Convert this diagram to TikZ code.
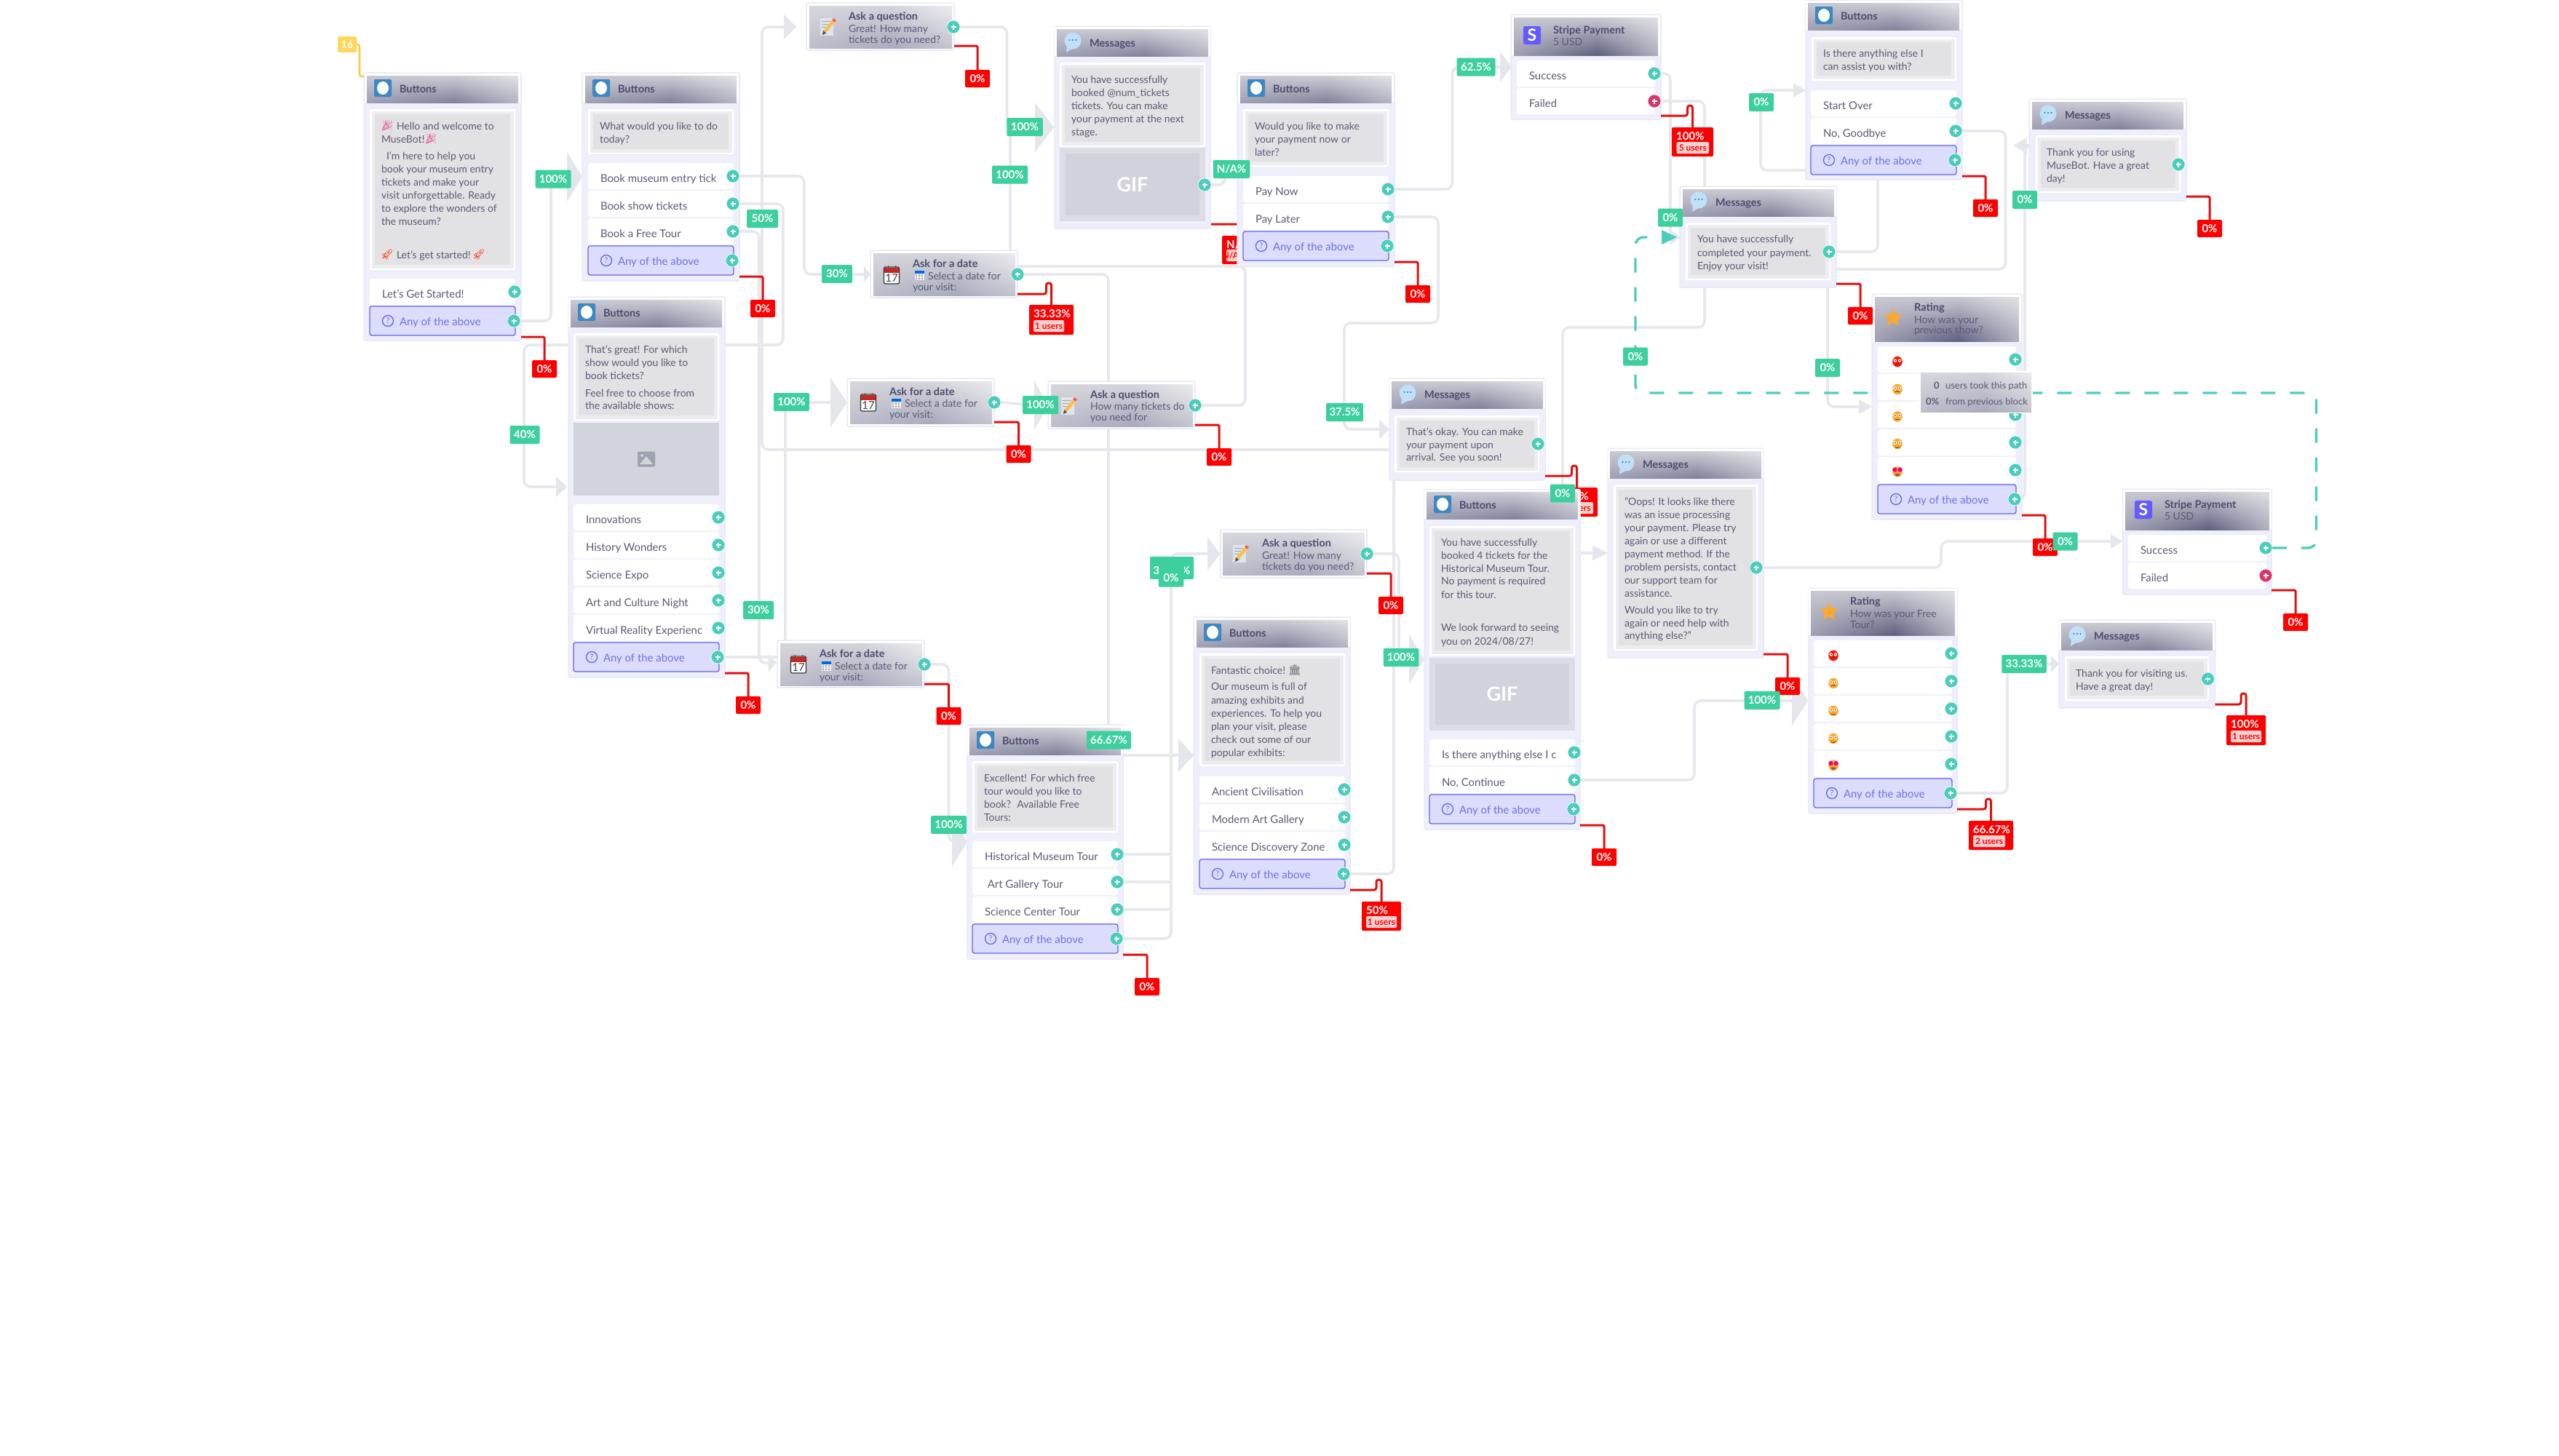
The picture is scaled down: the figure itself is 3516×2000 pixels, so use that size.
\documentclass[tikz,border=0pt]{standalone}
\usepackage{fontspec}
\setmainfont{Lato}
\newfontfamily\emofont{Noto Emoji}
\usetikzlibrary{calc,shapes.geometric,shadings}
\definecolor{bodyc}{HTML}{EEEFFA}
\definecolor{bodyl}{HTML}{E8E9F6}
\definecolor{txtc}{HTML}{5A5A76}
\definecolor{ttlc}{HTML}{4B4B6E}
\definecolor{connc}{HTML}{E7E8ED}
\definecolor{arrowc}{HTML}{E5E6EB}
\definecolor{tealc}{HTML}{4CCDBC}
\definecolor{pinkc}{HTML}{D9366B}
\definecolor{greenc}{HTML}{3ECF9F}
\definecolor{redc}{HTML}{FF0000}
\definecolor{redl}{HTML}{E01010}
\definecolor{anyf}{HTML}{DCDDFC}
\definecolor{anyl}{HTML}{6366E8}
\definecolor{anyt}{HTML}{6F70E6}
\definecolor{msgc}{HTML}{E2E2E4}
\definecolor{msge}{HTML}{EDEDEF}
\definecolor{gifc}{HTML}{D2D2DD}
\definecolor{gife}{HTML}{DCDCE5}
\definecolor{imgc}{HTML}{D1D5DB}
\definecolor{imgi}{HTML}{9CA3AF}
\definecolor{btnb}{HTML}{3D87C3}
\definecolor{msgb}{HTML}{BFE0F7}
\definecolor{msgd}{HTML}{2E79B5}
\definecolor{stripec}{HTML}{635BFF}
\definecolor{starc}{HTML}{FFA92B}
\definecolor{yelc}{HTML}{FFD75E}
\definecolor{yell}{HTML}{FFC93C}
\definecolor{pillc}{HTML}{FFD2D2}
\definecolor{memoc}{HTML}{DDE4EC}
% header colours: a = Buttons/Messages, b = Rating/Stripe, c = Ask blocks / tooltip
\definecolor{aul}{HTML}{C9C9D3}\definecolor{aum}{HTML}{CDCDD6}\definecolor{aur}{HTML}{E2E2E6}
\definecolor{all}{HTML}{A0A0B4}\definecolor{alm}{HTML}{80809A}\definecolor{alr}{HTML}{B5B5C3}
\definecolor{bul}{HTML}{C8C8D2}\definecolor{bum}{HTML}{C8C8D2}\definecolor{bur}{HTML}{E0E0E4}
\definecolor{bll}{HTML}{A0A0B2}\definecolor{blm}{HTML}{5F5F7F}\definecolor{blr}{HTML}{B0B0BE}
\definecolor{cul}{HTML}{D6D6DC}\definecolor{cum}{HTML}{D4D4DC}\definecolor{cur}{HTML}{EBEBEE}
\definecolor{cll}{HTML}{BDBECB}\definecolor{clm}{HTML}{A8A9BB}\definecolor{clr}{HTML}{C4C4D0}
\tikzset{
  txt/.style={anchor=base west,inner sep=0pt,outer sep=0pt,text=txtc,font=\fontsize{14}{14}\selectfont},
  opt/.style={font=\fontsize{14.9}{14.9}\selectfont},
  ttl/.style={text=ttlc,font=\fontsize{14.5}{14.5}\selectfont\bfseries},
  anytx/.style={text=anyt,font=\fontsize{14.9}{14.9}\selectfont},
  bodyn/.style={draw=bodyl,fill=bodyc,line width=1.5pt,rounded corners=2pt,anchor=north west,inner sep=0pt,outer sep=0pt},
  plusn/.style={circle,fill=tealc,draw=white,line width=0.6pt,minimum size=18pt,inner sep=0pt,outer sep=0pt},
  conn/.style={draw=connc,line width=3.6pt,rounded corners=9pt},
  redline/.style={draw=redl,line width=3pt,rounded corners=1.5pt},
  dashc/.style={draw=tealc,line width=3.4pt,rounded corners=11pt,dash pattern=on 20pt off 20pt},
  gl/.style={fill=greenc,text=white,rounded corners=2pt,minimum height=25pt,inner sep=0pt,outer sep=0pt,font=\fontsize{15}{15}\selectfont\bfseries},
  rl/.style={fill=redc,text=white,rounded corners=2pt,minimum height=24pt,minimum width=34pt,inner sep=0pt,outer sep=0pt,font=\fontsize{15}{15}\selectfont\bfseries},
}
\newcount\nodeno
\newcommand\Tx[4][]{\global\advance\nodeno by 1 \node[txt,#1] (t\the\nodeno) at ({#2},{#3+5}) {#4};}
\newcommand\Emo[4]{\global\advance\nodeno by 1 \node[anchor=center,inner sep=0pt,text=#3,font=\fontsize{14}{14}\emofont] (t\the\nodeno) at (#1,#2) {#4};}
\newcommand\Bd[5]{\node[bodyn,minimum width=#4-#2,minimum height=#5-#3] (#1) at (#2,#3) {};}
\newcommand\HdS[5]{%
  \pgfmathsetmacro\hm{#1+0.58*(#3-#1)}%
  \shade[shading=bilinear interpolation,upper left=#5ul,upper right=#5um,lower left=#5ll,lower right=#5lm] (#1,#2) rectangle (\hm+0.4,#4);
  \shade[shading=bilinear interpolation,upper left=#5um,upper right=#5ur,lower left=#5lm,lower right=#5lr] (\hm,#2) rectangle (#3,#4);}
\newcommand\Hd[5]{\fill[white] (#1-3,#2-3) rectangle (#3+3,#4); \HdS{#1}{#2}{#3}{#4}{#5}}
\newcommand\Msg[4]{%
  \fill[white,rounded corners=1.5pt] (#1,#2) rectangle (#3,#4);
  \fill[msge] (#1+2.5,#2+2.5) rectangle (#3-2.5,#4-2.5);
  \fill[msgc] (#1+7,#2+7) rectangle (#3-7,#4-7);}
\newcommand\Gif[4]{%
  \fill[gife] (#1,#2) rectangle (#3,#4);
  \fill[gifc] (#1+8,#2+8) rectangle (#3-8,#4-8);
  \global\advance\nodeno by 1
  \node[inner sep=0pt,text=white,font=\fontsize{27}{27}\selectfont\bfseries] (t\the\nodeno) at ({(#1+#3)/2},{(#2+#4)/2}) {GIF};}
\newcommand\Plus[4][tealc]{%
  \node[plusn,fill=#1] (#2) at (#3,#4) {};
  \draw[white,line width=1.4pt] ([xshift=-3.5pt]#2.center) -- ([xshift=3.5pt]#2.center) ([yshift=-3.5pt]#2.center) -- ([yshift=3.5pt]#2.center);}
\newcommand\Op[7][tealc]{% [col]{name}{x1}{y1}{x2}{y2}{text}
  \pgfmathsetmacro\opcy{(#4+#6)/2}%
  \fill[white,rounded corners=3pt] (#3,#4) rectangle (#5,#6);
  \Tx[opt]{#3+17}{\opcy+3}{#7}
  \Plus[#1]{#2}{#5-1}{\opcy}}
\newcommand\IQ[2]{%
  \draw[anyl,line width=1.3pt] (#1,#2) circle (7.5);
  \global\advance\nodeno by 1
  \node[inner sep=0pt,text=anyl,font=\fontsize{10.5}{10.5}\selectfont] (t\the\nodeno) at (#1,#2) {?};}
\newcommand\AnyOp[5]{%
  \pgfmathsetmacro\opcy{(#3+#5)/2}%
  \draw[fill=anyf,draw=anyl,line width=1.3pt,rounded corners=3pt] (#2,#3) rectangle (#4,#5);
  \IQ{#2+25}{\opcy}
  \Tx[anytx]{#2+41}{\opcy+1}{Any of the above}
  \Plus{#1}{#4-2}{\opcy}}
\newcommand\IBtn[2]{\fill[btnb,rounded corners=2pt] (#1,#2) rectangle (#1+24,#2+24); \fill[white] (#1+12,#2+12) ellipse (8 and 9);}
\newcommand\IMsg[2]{%
  \fill[msgb] (#1-8,#2+6) -- (#1-9,#2+16) -- (#1+1,#2+10) -- cycle;
  \fill[msgb] (#1,#2) circle (11.5);
  \fill[msgd] (#1-4.5,#2-1) circle (1.1) (#1,#2-1) circle (1.1) (#1+4.5,#2-1) circle (1.1);}
\newcommand\IMemo[2]{%
  \fill[memoc] (#1-11,#2-12) rectangle (#1+7,#2+12);
  \draw[gray!70,line width=1pt] (#1-9,#2-8) -- (#1+3,#2-8) (#1-9,#2-4) -- (#1,#2-4) (#1-9,#2) -- (#1-2,#2);
  \draw[yelc!70!orange,line width=4.5pt] (#1-5,#2+7) -- (#1+7,#2-8);
  \draw[red!70,line width=4.5pt] (#1+7,#2-8) -- (#1+9,#2-10.5);
  \fill[black!70] (#1-8,#2+11) -- (#1-7,#2+5) -- (#1-3,#2+8.5) -- cycle;}
\newcommand\ICal[2]{%
  \draw[fill=white,draw=black!80,line width=1.2pt,rounded corners=1.5pt] (#1-10.5,#2-11) rectangle (#1+10.5,#2+12);
  \fill[red!75!black!85!white] (#1-9.8,#2-10.3) rectangle (#1+9.8,#2-3.5);
  \draw[black!70,line width=.8pt] (#1-5,#2-13) -- (#1-5,#2-9) (#1+5,#2-13) -- (#1+5,#2-9);
  \global\advance\nodeno by 1
  \node[inner sep=0pt,text=black!75,font=\fontsize{15}{15}\selectfont] (t\the\nodeno) at (#1,#2+4.5) {17};}
\newcommand\IMini[2]{%
  \fill[gray!12] (#1-6.5,#2-6) rectangle (#1+6.5,#2+7);
  \fill[blue!55!cyan!90!black] (#1-6.5,#2-6) rectangle (#1+6.5,#2-2.5);
  \foreach \ii in {-4,0,4}{\foreach \jj in {0,2.5,5}{\fill[gray!70] (#1+\ii-.8,#2+\jj-.8) rectangle (#1+\ii+.8,#2+\jj+.8);}}}
\newcommand\IStripe[2]{%
  \fill[stripec,rounded corners=2.5pt] (#1,#2) rectangle (#1+24,#2+25);
  \global\advance\nodeno by 1
  \node[inner sep=0pt,text=white,font=\fontsize{23}{23}\selectfont\bfseries] (t\the\nodeno) at (#1+12,#2+12.5) {S};}
\newcommand\IStar[2]{%
  \global\advance\nodeno by 1
  \node[star,star points=5,star point ratio=2.3,fill=starc,inner sep=0pt,minimum size=27pt] (t\the\nodeno) at (#1,#2) {};}
\newcommand\IImg[2]{%
  \fill[imgi,rounded corners=2pt] (#1-12,#2-10.5) rectangle (#1+12,#2+10.5);
  \fill[imgc] (#1-9,#2+7) -- (#1,#2-4) -- (#1+9,#2+7) -- cycle;
  \fill[imgc] (#1-6,#2-5) circle (2);}
\newcommand\Face[4]{%
  \fill[#3] (#1,#2) ellipse (6.8 and 7.3);
  \fill[white] (#1-3,#2-1.5) circle (2.2) (#1+3,#2-1.5) circle (2.2);
  \fill[black!75] (#1-3,#2-1.5) circle (1) (#1+3,#2-1.5) circle (1);
  \draw[black!70,line width=.9pt] (#1-3,#2+4) .. controls (#1,#2+4+#4) .. (#1+3,#2+4);}
\newcommand\FaceH[2]{%
  \fill[starc] (#1,#2) ellipse (6.8 and 7.3);
  \fill[magenta!85!red] (#1-3.6,#2-3) circle (3.2) (#1+3.6,#2-3) circle (3.2);
  \fill[magenta!60!black] (#1-3.5,#2+2.5) -- (#1+3.5,#2+2.5) .. controls (#1+3,#2+7) and (#1-3,#2+7) .. cycle;}
\newcommand\Arw[6][arrowc]{%
  \fill[#1] ({#3-#5},{#4-#6}) -- (#3,#4) -- ({#3-#5},{#4+#6}) -- cycle;
  \coordinate (#2) at ({#3-#5},#4);}
\newcommand\GL[5]{\node[gl,minimum width=#4] (#1) at (#2,#3) {#5};}
\newcommand\RL[4]{\node[rl] (#1) at (#2,#3) {#4};}
\newcommand\RD[9]{% name x1 y1 x2 y2 pct users pillx1 pillx2
  \node[rl,anchor=north west,minimum width=#4-#2,minimum height=#5-#3] (#1) at (#2,#3) {};
  \fill[pillc,rounded corners=1.5pt] (#8,#5-20) rectangle (#9,#5-4);
  \global\advance\nodeno by 1
  \node[anchor=base west,inner sep=0pt,text=white,font=\fontsize{15}{15}\selectfont\bfseries] (t\the\nodeno) at (#2+6,#3+17) {#6};
  \global\advance\nodeno by 1
  \node[anchor=base,inner sep=0pt,text=red,font=\fontsize{12}{12}\selectfont\bfseries] (t\the\nodeno) at ({(#8+#9)/2},#5-7.5) {#7};}
\newcommand\Rdrop[3]{\draw[redline] ([yshift=#2pt]#1.south east) -| (#3.north);}
\newcommand\Rbump[3]{\draw[redline,rounded corners=3pt] ([yshift=#2pt]#1.south east) -| ($(#3.north)+(-7,-30)$) -- ($(#3.north)+(0,-30)$) -- (#3.north);}
\pgfdeclarelayer{connlayer}\pgfdeclarelayer{toplayer}
\pgfsetlayers{connlayer,main,toplayer}
\begin{document}
\begin{tikzpicture}[x=1pt,y=-1pt]
\useasboundingbox (0,0) rectangle (3516,2000);

% ---------- A ----------
\Bd{bA}{500}{100}{716}{468}
\Hd{504}{104}{712}{141}{a}
\IBtn{514}{109}
\Tx[ttl]{549}{122.5}{Buttons}
\Msg{508}{150}{708}{371}
\Emo{532}{173}{magenta!70!orange}{🎉}
\Tx{545}{173}{Hello and welcome to}
\Tx{524}{191}{MuseBot!}
\Emo{592}{191}{magenta!70!orange}{🎉}
\Tx{531}{214}{I'm here to help you}
\Tx{524}{232}{book your museum entry}
\Tx{524}{250}{tickets and make your}
\Tx{524}{268}{visit unforgettable. Ready}
\Tx{524}{286}{to explore the wonders of}
\Tx{524}{304}{the museum?}
\Emo{532}{350}{red!70!orange}{🚀}
\Tx{545}{350}{Let's get started!}
\Emo{658}{350}{red!70!orange}{🚀}
\Op{pA1}{508}{383}{708}{419}{Let's Get Started!}
\AnyOp{pAa}{508}{421}{708}{461}

% ---------- B ----------
\Bd{bB}{800}{100}{1016}{386}
\Hd{804}{104}{1012}{141}{a}
\IBtn{814}{109}
\Tx[ttl]{849}{122.5}{Buttons}
\Msg{808}{150}{1008}{212}
\Tx{824}{173}{What would you like to do}
\Tx{824}{191}{today?}
\Op{pB1}{808}{224}{1008}{260}{Book museum entry tick}
\Op{pB2}{808}{262}{1008}{298}{Book show tickets}
\Op{pB3}{808}{300}{1008}{336}{Book a Free Tour}
\AnyOp{pBa}{808}{338}{1008}{378}

% ---------- C ----------
\Bd{bC}{781}{408}{996}{931}
\Hd{784}{412}{992}{449}{a}
\IBtn{794}{417}
\Tx[ttl]{829}{430}{Buttons}
\Msg{788}{458}{988}{578}
\Tx{804}{480}{That's great! For which}
\Tx{804}{498.5}{show would you like to}
\Tx{804}{516}{book tickets?}
\Tx{804}{540}{Feel free to choose from}
\Tx{804}{557.5}{the available shows:}
\fill[imgc] (788,581) rectangle (988,681);
\IImg{888}{631}
\Op{pC1}{788}{693}{988}{729}{Innovations}
\Op{pC2}{788}{731}{988}{767}{History Wonders}
\Op{pC3}{788}{769}{988}{805}{Science Expo}
\Op{pC4}{788}{807}{988}{843}{Art and Culture Night}
\Op{pC5}{788}{845}{988}{881}{Virtual Reality Experienc}
\AnyOp{pCa}{788}{883}{988}{923}

% ---------- D Ask a question ----------
\Bd{bD}{1108}{4}{1311}{69}
\fill[white] (1109,5) rectangle (1310,68);
\HdS{1112}{8}{1308}{66}{c}
\IMemo{1138}{37}
\Tx[ttl]{1166}{22.5}{Ask a question}
\Tx{1166}{39}{Great! How many}
\Tx{1166}{54}{tickets do you need?}
\Plus{pD}{1310}{37}

% ---------- E Messages ----------
\Bd{bE}{1449}{36}{1663}{314}
\Hd{1452}{40}{1660}{77}{a}
\IMsg{1474}{56}
\Tx[ttl]{1497}{59}{Messages}
\Msg{1456}{86}{1656}{202}
\Tx{1472}{109}{You have successfully}
\Tx{1472}{127}{booked @num\_tickets}
\Tx{1472}{145}{tickets. You can make}
\Tx{1472}{163}{your payment at the next}
\Tx{1472}{181}{stage.}
\Gif{1456}{203}{1656}{304}
\Plus{pE}{1655}{254}

% ---------- F Ask for a date ----------
\Bd{bF}{1196}{344}{1398}{409}
\fill[white] (1197,345) rectangle (1397,408);
\HdS{1200}{348}{1395}{406}{c}
\ICal{1225}{378}
\Tx[ttl]{1254}{362}{Ask for a date}
\IMini{1263}{378}
\Tx{1275}{379}{Select a date for}
\Tx{1254}{394}{your visit:}
\Plus{pF}{1398}{377}

% ---------- G Buttons ----------
\Bd{bG}{1700}{100}{1916}{366}
\Hd{1704}{104}{1912}{141}{a}
\IBtn{1714}{109}
\Tx[ttl]{1749}{122.5}{Buttons}
\Msg{1708}{150}{1908}{229}
\Tx{1724}{173}{Would you like to make}
\Tx{1724}{191}{your payment now or}
\Tx{1724}{209}{later?}
\Op{pG1}{1708}{242}{1908}{278}{Pay Now}
\Op{pG2}{1708}{280}{1908}{316}{Pay Later}
\AnyOp{pGa}{1708}{318}{1908}{358}

% ---------- H Stripe ----------
\Bd{bH}{2076}{20}{2282}{164}
\Hd{2080}{24}{2278}{76}{b}
\IStripe{2093}{36}
\Tx[ttl]{2134}{41}{Stripe Payment}
\Tx{2134}{57}{5 USD}
\Op{pH1}{2084}{83}{2274}{119}{Success}
\Op[pinkc]{pH2}{2084}{121}{2274}{157}{Failed}

% ---------- I Messages ----------
\Bd{bI}{2308}{256}{2523}{395}
\Hd{2312}{260}{2520}{297}{a}
\IMsg{2334}{275}
\Tx[ttl]{2357}{278}{Messages}
\Msg{2316}{306}{2515}{385}
\Tx{2332}{328}{You have successfully}
\Tx{2332}{347}{completed your payment.}
\Tx{2332}{365}{Enjoy your visit!}
\Plus{pI}{2513}{346}

% ---------- J Buttons ----------
\Bd{bJ}{2481}{0}{2696}{247}
\Hd{2484}{4}{2692}{41}{a}
\IBtn{2494}{9}
\Tx[ttl]{2529}{22}{Buttons}
\Msg{2489}{51}{2688}{111}
\Tx{2505}{73}{Is there anything else I}
\Tx{2505}{91}{can assist you with?}
\Op{pJ1}{2488}{124}{2688}{160}{Start Over}
\Op{pJ2}{2488}{162}{2688}{198}{No, Goodbye}
\AnyOp{pJa}{2488}{200}{2688}{240}

% ---------- K Messages ----------
\Bd{bK}{2788}{136}{3004}{276}
\Hd{2792}{140}{3000}{177}{a}
\IMsg{2814}{156}
\Tx[ttl]{2837}{158}{Messages}
\Msg{2797}{186}{2996}{265}
\Tx{2812}{209}{Thank you for using}
\Tx{2812}{227}{MuseBot. Have a great}
\Tx{2812}{245}{day!}
\Plus{pK}{2993}{226}

% ---------- L Rating ----------
\Bd{bL}{2572}{404}{2778}{714}
\Hd{2576}{408}{2774}{469}{b}
\IStar{2601}{437}
\Tx[ttl]{2630}{422.5}{Rating}
\Tx{2630}{439}{How was your}
\Tx{2630}{453.5}{previous show?}
\Op{pL1}{2580}{476}{2770}{512}{}
\Op{pL2}{2580}{514}{2770}{550}{}
\Op{pL3}{2580}{552}{2770}{588}{}
\Op{pL4}{2580}{590}{2770}{626}{}
\Op{pL5}{2580}{628}{2770}{664}{}
\Face{2607}{497}{red!85!orange}{-2.5}
\Face{2607}{535}{starc}{-2}
\Face{2607}{572.5}{starc}{0}
\Face{2607}{610}{starc}{2}
\FaceH{2607}{648.5}
\AnyOp{pLa}{2580}{666}{2770}{706}

% ---------- M Messages ----------
\Bd{bM}{1909}{520}{2123}{660}
\Hd{1912}{524}{2120}{561}{a}
\IMsg{1934}{540}
\Tx[ttl]{1957}{542.5}{Messages}
\Msg{1916}{571}{2115}{649}
\Tx{1932}{593}{That's okay. You can make}
\Tx{1932}{611}{your payment upon}
\Tx{1932}{628.5}{arrival. See you soon!}
\Plus{pM}{2113}{610}

% ---------- N Ask for a date ----------
\Bd{bN}{1164}{520}{1366}{586}
\fill[white] (1165,521) rectangle (1365,585);
\HdS{1168}{524}{1363}{582}{c}
\ICal{1193}{553}
\Tx[ttl]{1222}{538}{Ask for a date}
\IMini{1231}{554}
\Tx{1243}{554}{Select a date for}
\Tx{1222}{569}{your visit:}
\Plus{pN}{1366}{553}

% ---------- O Ask a question ----------
\Bd{bO}{1440}{524}{1642}{589}
\fill[white] (1441,525) rectangle (1641,588);
\HdS{1444}{528}{1639}{586}{c}
\IMemo{1469}{558}
\Tx[ttl]{1498}{542.5}{Ask a question}
\Tx{1498}{558.5}{How many tickets do}
\Tx{1498}{573.5}{you need for}
\Plus{pO}{1642}{557}

% ---------- P Ask for a date ----------
\Bd{bP}{1068}{880}{1270}{945}
\fill[white] (1069,881) rectangle (1269,944);
\HdS{1072}{884}{1267}{942}{c}
\ICal{1097}{913}
\Tx[ttl]{1126}{898}{Ask for a date}
\IMini{1135}{915}
\Tx{1147}{915}{Select a date for}
\Tx{1126}{930}{your visit:}
\Plus{pP}{1270}{913}

% ---------- Q Ask a question ----------
\Bd{bQ}{1676.5}{728}{1878}{794}
\fill[white] (1677.5,729) rectangle (1877,793);
\HdS{1680}{732}{1875}{790}{c}
\IMemo{1705}{761}
\Tx[ttl]{1734}{746}{Ask a question}
\Tx{1734}{763}{Great! How many}
\Tx{1734}{778}{tickets do you need?}
\Plus{pQ}{1878}{761}

% ---------- R Buttons ----------
\Bd{bR}{1329}{996}{1543}{1318}
\Hd{1332}{1000}{1540}{1037}{a}
\IBtn{1342}{1005}
\Tx[ttl]{1377}{1018}{Buttons}
\Msg{1336}{1046}{1536}{1144}
\Tx{1352}{1069}{Excellent! For which free}
\Tx{1352}{1087}{tour would you like to}
\Tx{1352}{1105}{book?~ Available Free}
\Tx{1352}{1123}{Tours:}
\Op{pR1}{1336}{1156}{1536}{1192}{Historical Museum Tour}
\Op{pR2}{1336}{1194}{1536}{1230}{~Art Gallery Tour}
\Op{pR3}{1336}{1232}{1536}{1268}{Science Center Tour}
\AnyOp{pRa}{1336}{1270}{1536}{1310}

% ---------- S Buttons ----------
\Bd{bS}{1640}{848}{1855}{1229}
\Hd{1644}{852}{1852}{889}{a}
\IBtn{1654}{857}
\Tx[ttl]{1689}{870}{Buttons}
\Msg{1648}{898}{1848}{1053}
\Tx{1664}{921}{Fantastic choice!}
\Emo{1779}{921}{black!60}{🏛}
\Tx{1664}{943}{Our museum is full of}
\Tx{1664}{962}{amazing exhibits and}
\Tx{1664}{980}{experiences. To help you}
\Tx{1664}{998}{plan your visit, please}
\Tx{1664}{1016}{check out some of our}
\Tx{1664}{1034}{popular exhibits:}
\Op{pS1}{1648}{1067}{1848}{1103}{Ancient Civilisation}
\Op{pS2}{1648}{1105}{1848}{1141}{Modern Art Gallery}
\Op{pS3}{1648}{1143}{1848}{1179}{Science Discovery Zone}
\AnyOp{pSa}{1648}{1181}{1848}{1221}

% ---------- T Buttons ----------
\Bd{bT}{1957}{672.5}{2171}{1140}
\Hd{1960}{676}{2168}{713}{a}
\IBtn{1970}{681}
\Tx[ttl]{2005}{694}{Buttons}
\Msg{1964}{723}{2164}{901}
\Tx{1980}{745}{You have successfully}
\Tx{1980}{763}{booked 4 tickets for the}
\Tx{1980}{781}{Historical Museum Tour.}
\Tx{1980}{798.5}{No payment is required}
\Tx{1980}{817}{for this tour.}
\Tx{1980}{862.5}{We look forward to seeing}
\Tx{1980}{881}{you on 2024/08/27!}
\Gif{1964}{904}{2164}{1004}
\Op{pT1}{1964}{1016}{2164}{1052}{Is there anything else I c}
\Op{pT2}{1964}{1054}{2164}{1090}{No, Continue}
\AnyOp{pTa}{1964}{1092}{2164}{1132}

% ---------- U Messages ----------
\Bd{bU}{2209}{616}{2423}{904}
\Hd{2212}{620}{2420}{657}{a}
\IMsg{2234}{636}
\Tx[ttl]{2257}{638}{Messages}
\Msg{2217}{666}{2415}{894}
\Tx{2232}{689}{"Oops! It looks like there}
\Tx{2232}{707}{was an issue processing}
\Tx{2232}{725}{your payment. Please try}
\Tx{2232}{743}{again or use a different}
\Tx{2232}{761}{payment method. If the}
\Tx{2232}{779}{problem persists, contact}
\Tx{2232}{797}{our support team for}
\Tx{2232}{815}{assistance.}
\Tx{2232}{838}{Would you like to try}
\Tx{2232}{856}{again or need help with}
\Tx{2232}{873.5}{anything else?"}
\Plus{pU}{2413}{780}

% ---------- V Rating ----------
\Bd{bV}{2485}{808.5}{2689}{1118}
\Hd{2488}{812}{2686}{873}{b}
\IStar{2513}{841}
\Tx[ttl]{2542}{826}{Rating}
\Tx{2542}{843}{How was your Free}
\Tx{2542}{858}{Tour?}
\Op{pV1}{2492}{880}{2682}{916}{}
\Op{pV2}{2492}{918}{2682}{954}{}
\Op{pV3}{2492}{956}{2682}{992}{}
\Op{pV4}{2492}{994}{2682}{1030}{}
\Op{pV5}{2492}{1032}{2682}{1068}{}
\Face{2519}{901}{red!85!orange}{-2.5}
\Face{2519}{939}{starc}{-2}
\Face{2519}{977}{starc}{0}
\Face{2519}{1015}{starc}{2}
\FaceH{2519}{1052}
\AnyOp{pVa}{2492}{1070}{2682}{1110}

% ---------- W Stripe ----------
\Bd{bW}{2916.5}{672}{3121}{817}
\Hd{2920}{676}{3118}{728}{b}
\IStripe{2933}{688}
\Tx[ttl]{2974}{693}{Stripe Payment}
\Tx{2974}{709}{5 USD}
\Op{pW1}{2924}{735}{3114}{771}{Success}
\Op[pinkc]{pW2}{2924}{773}{3114}{809}{Failed}

% ---------- X Messages ----------
\Bd{bX}{2829}{852}{3043.5}{973}
\Hd{2832}{856}{3040}{893}{a}
\IMsg{2854}{872}
\Tx[ttl]{2877}{874}{Messages}
\Msg{2837}{902}{3035}{963}
\Tx{2852}{925}{Thank you for visiting us.}
\Tx{2852}{943}{Have a great day!}
\Plus{pX}{3033.5}{933}

% ---------- connectors (under the blocks) ----------
\begin{pgfonlayer}{connlayer}
\fill[white] (0,0) rectangle (3516,2000);
\Arw{arB}{800}{243}{21}{34}
\Arw{arC}{779}{669}{15}{14}
\Arw{arD}{1094}{37}{17}{17}
\Arw{arE}{1448}{175}{26}{34}
\Arw{arF}{1196}{377}{9}{11}
\Arw{arG}{1700}{232}{0}{0}
\Arw{arH}{2077}{92}{16}{21}
\Arw{arI}{2309}{326}{14}{10}
\Arw{arJ}{2481}{124}{17}{10}
\Arw{arK}{2766}{200}{-19}{11}
\Arw{arL}{2572}{559}{18}{10}
\Arw{arM}{1909}{590}{14}{13}
\Arw{arN}{1164}{553}{23}{34}
\Arw{arO}{1440}{557}{19}{34}
\Arw{arP}{1067}{911}{11.5}{12}
\Arw{arQ}{1676.5}{761}{17.5}{23}
\Arw{arR}{1329}{1157}{21}{34}
\Arw{arS}{1640}{1038}{21}{23}
\Arw{arT}{1957}{906}{21}{34}
\Arw{arU}{2209}{760}{21}{10.5}
\Arw{arV}{2484}{963}{22}{34}
\Arw{arW}{2916.5}{744}{16.5}{10}
\Arw{arX}{2829}{912.5}{11}{11.5}
\coordinate (busR) at (1609,1000);

\draw[conn] (pAa.east) -| (757,243) -- (arB);
\draw[conn] (pB1.east) -| (1105,377) -- (arF);
\draw[conn] (pB2.east) -- (1076,280) -- (1076,474) -- (720,474) -- (720,669) -- (arC);
\draw[conn] (pB3.east) -| (1043,911) -- (arP);
\draw[conn] (pCa.east) -- (bP.west |- pCa.east);
\draw[conn] (pD.east) -| (1383.5,175) -- (arE);
\draw[conn] (pO.east) -| (1711,366) -- (1388,366) -- (1388,175) -- (arE);
\draw[conn] (pE.east) -| (1683,232) -- (arG);
\draw[conn] (pF.east) -| (1523,1038) -- (arS);
\draw[conn] (pN.east) -- (arO);
\draw[conn] (arN) -- (1079,553) -- (1079,880);
\draw[conn] (pP.east) -| (1303.5,1157) -- (arR);
\draw[conn] (pG1.east) -| (1995.5,92) -- (arH);
\draw[conn] (pG2.east) -| (1976,444) -- (1847,444) -- (1847,590) -- (arM);
\draw[conn] (pH1.east) -| (2295,326) -- (arI);
\draw[conn] (pH2.east) -| (2342,450) -- (2147,450) -- (2147,760) -- (arU);
\draw[conn] (pI.east) -| (2580,234) -- (2419,234) -- (2419,124) -- (arJ);
\draw[conn] (pJ2.east) -| (2755.5,370) -- (2511,370) -- (2511,559) -- (arL);
\draw[conn] (pLa.east) -| (2782,200) -- (arK);
\draw[conn] (pU.east) -| (2667,744) -- (arW);
\draw[conn] (pVa.east) -| (2758,912.5) -- (arX);
\draw[conn] (pT2.east) -| (2328,963) -- (arV);
\draw[conn] (pR1.east) -- (busR |- pR1.east);
\draw[conn] (pR2.east) -- (busR |- pR2.east);
\draw[conn] (pR3.east) -- (busR |- pR3.east);
\draw[conn] (pRa.east) -| (busR |- arQ) -- (arQ);
\draw[conn] (pQ.east) -| (1922,906) -- (arT);
\draw[conn] (pSa.east) -| (1915,618) -- (1047,618) -- (1047,37) -- (arD);
\draw[conn] (1915,906) -- (arT);

% dashed jump
\Arw[tealc]{arTeal}{2304}{326}{21}{10}
\draw[dashc] (pW1.east) -- (3182.5,753) -- (3182.5,540) -- (2247,540) -- (2247,326) -- (arTeal);

% red drop labels hidden by blocks
\RD{rNA}{1679}{324}{1735}{363}{N/A\%}{N/A users}{1685}{1728}
\draw[redline] ([yshift=6pt]bE.south east) -| (rNA.north);
\RD{rM}{2138}{670}{2195}{710}{100\%}{3 users}{2144}{2189}
\end{pgfonlayer}

% ---------- labels on top ----------
\begin{pgfonlayer}{toplayer}
% start tag
\node[fill=yelc,text=white,rounded corners=2pt,minimum width=26pt,minimum height=22pt,inner sep=0pt,font=\fontsize{14}{14}\selectfont\bfseries] (tag) at (477,61) {16};
\draw[yell,line width=2.6pt,rounded corners=3pt] (tag.east) -- (494,61) -- (494,105) -- (bA.north west |- 0,105);

% red labels
\RL{r1}{748}{507}{0\%}      \Rdrop{bA}{5}{r1}
\RL{r2}{1048}{424}{0\%}     \Rdrop{bB}{6}{r2}
\RL{r3}{1343}{108}{0\%}     \Rdrop{bD}{6}{r3}
\RD{r4}{1414}{419}{1475}{460}{33.33\%}{1 users}{1420}{1462} \Rbump{bF}{5}{r4}
\RL{r5}{1948}{404}{0\%}     \Rdrop{bG}{6}{r5}
\RD{r6}{2297}{175}{2354}{215}{100\%}{5 users}{2303.5}{2348} \Rbump{bH}{5}{r6}
\RL{r7}{2728}{286}{0\%}     \Rdrop{bJ}{5}{r7}
\RL{r8}{3036}{314}{0\%}     \Rdrop{bK}{6}{r8}
\RL{r9}{2556}{434}{0\%}     \Rdrop{bI}{5}{r9}
\RL{r10}{2810}{752}{0\%}    \Rdrop{bL}{6}{r10}
\RL{r11}{1399.5}{624}{0\%}  \Rdrop{bN}{6}{r11}
\RL{r12}{1675}{628}{0\%}    \Rdrop{bO}{5}{r12}
\RL{r13}{1028}{969}{0\%}    \Rdrop{bC}{6}{r13}
\RL{r14}{1303.5}{984}{0\%}  \Rdrop{bP}{5}{r14}
\RL{r15}{1911}{832}{0\%}    \Rdrop{bQ}{6}{r15}
\Rbump{bM}{6}{rM}
\RL{r16}{2204}{1178}{0\%}   \Rdrop{bT}{6}{r16}
\RL{r17}{2456}{943}{0\%}    \Rdrop{bU}{5}{r17}
\RD{r18}{2705}{1128}{2766}{1168}{66.67\%}{2 users}{2711}{2755} \Rbump{bV}{6}{r18}
\RL{r19}{3154}{855}{0\%}    \Rdrop{bW}{6}{r19}
\RD{r20}{3059}{983}{3113}{1024}{100\%}{1 users}{3065}{3107} \Rbump{bX}{5}{r20}
\RD{r21}{1871}{1239}{1925}{1279}{50\%}{1 users}{1877}{1919} \Rbump{bS}{6}{r21}
\RL{r22}{1576}{1356}{0\%}   \Rdrop{bR}{6}{r22}

% green labels
\GL{g1}{760}{246}{49}{100\%}
\GL{g2}{1047.5}{300.5}{43}{50\%}
\GL{g3}{1150}{376.5}{42}{30\%}
\GL{g4}{1408}{174.5}{49.5}{100\%}
\GL{g5}{1387.5}{240}{49}{100\%}
\GL{g6}{1692}{232.5}{50.5}{N/A\%}
\GL{g7}{2028}{92}{53}{62.5\%}
\GL{g8}{2420}{140.5}{34}{0\%}
\GL{g9}{2295}{299}{34}{0\%}
\GL{g10}{2247}{490}{34}{0\%}
\GL{g11}{2782}{274.5}{34}{0\%}
\GL{g12}{2511}{505.5}{34}{0\%}
\GL{g13}{721}{597.5}{41}{40\%}
\GL{g14}{1087.5}{552.5}{49}{100\%}
\GL{g15}{1429.5}{556.5}{49}{100\%}
\GL{g16}{1042}{838.5}{42}{30\%}
\GL{g17}{1847.5}{566.5}{51}{37.5\%}
\fill[greenc,rounded corners=2pt] (1580,765) rectangle (1640,796);
\node[text=white,inner sep=0pt,font=\fontsize{15}{15}\selectfont\bfseries] (g18) at (1610,784) {33.33\%};
\fill[greenc] (1592,768) rectangle (1627,792);
\GL{g19}{1609}{794}{34.5}{0\%}
\GL{g20}{1925}{903.5}{48.5}{100\%}
\GL{g21}{2147}{678}{34}{0\%}
\GL{g22}{2421}{962.5}{49}{100\%}
\GL{g23}{2781}{912.5}{61.5}{33.33\%}
\GL{g24}{2837.5}{744}{34}{0\%}
\GL{g25}{1303.5}{1133.5}{49}{100\%}
\GL{g26}{1523.5}{1017}{61}{66.67\%}

% tooltip
\fill[white] (2637,510) rectangle (2793,568);
\HdS{2639}{512}{2791}{566}{c}
\Tx[font=\fontsize{13}{13}\selectfont\bfseries]{2657}{529}{0}
\Tx[font=\fontsize{13}{13}\selectfont]{2673}{529}{users took this path}
\Tx[font=\fontsize{13}{13}\selectfont\bfseries]{2646}{551}{0\%}
\Tx[font=\fontsize{13}{13}\selectfont]{2673}{551}{from previous block}
\end{pgfonlayer}
\end{tikzpicture}
\end{document}
